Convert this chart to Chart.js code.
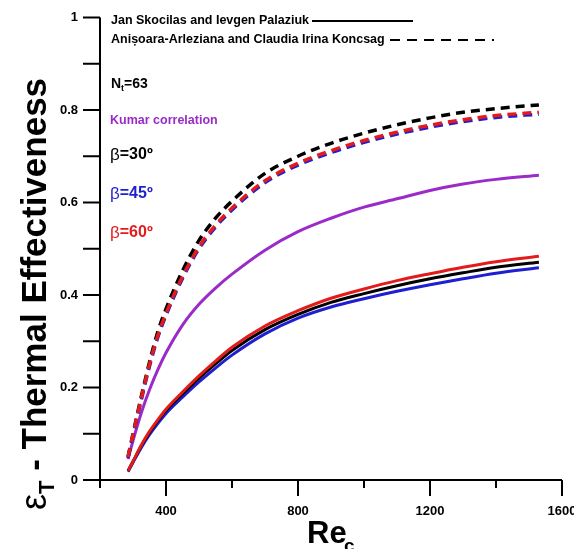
<!DOCTYPE html>
<html>
<head>
<meta charset="utf-8">
<script src="https://cdn.jsdelivr.net/npm/chart.js@4.4.1/dist/chart.umd.min.js"></script>
<style>
html, body { margin: 0; padding: 0; background: #fff; }
#wrap { width: 574px; height: 549px; }
</style>
</head>
<body>
<div id="wrap"><canvas id="effChart" width="574" height="549"></canvas></div>
<script>
// Reynolds numbers shared by every curve
const reValues = [285, 300, 325, 350, 375, 400, 450, 500, 550, 600, 700, 800, 900, 1000, 1100, 1200, 1300, 1400, 1530];

// Anisoara-Arleziana & Koncsag (dashed)
const dashed30 = [0.05, 0.10, 0.18, 0.255, 0.32, 0.37, 0.452, 0.518, 0.566, 0.603, 0.663, 0.70, 0.728, 0.75, 0.768, 0.783, 0.795, 0.803, 0.811];
const dashed45 = [0.048, 0.096, 0.173, 0.246, 0.308, 0.356, 0.436, 0.50, 0.547, 0.584, 0.643, 0.681, 0.708, 0.73, 0.748, 0.763, 0.775, 0.784, 0.791];
const dashed60 = [0.05, 0.098, 0.176, 0.25, 0.312, 0.36, 0.44, 0.504, 0.551, 0.588, 0.647, 0.685, 0.712, 0.734, 0.752, 0.767, 0.779, 0.788, 0.795];

// Kumar correlation
const kumar = [0.045, 0.085, 0.145, 0.195, 0.238, 0.275, 0.335, 0.38, 0.415, 0.445, 0.497, 0.537, 0.566, 0.59, 0.608, 0.626, 0.64, 0.65, 0.659];

// Skocilas & Palaziuk (solid)
const solid30 = [0.02, 0.04, 0.074, 0.103, 0.128, 0.15, 0.186, 0.22, 0.251, 0.28, 0.325, 0.358, 0.384, 0.403, 0.42, 0.435, 0.448, 0.46, 0.471];
const solid45 = [0.018, 0.038, 0.07, 0.098, 0.122, 0.144, 0.179, 0.212, 0.242, 0.27, 0.316, 0.35, 0.374, 0.392, 0.408, 0.422, 0.435, 0.447, 0.459];
const solid60 = [0.02, 0.04, 0.075, 0.105, 0.13, 0.153, 0.19, 0.225, 0.257, 0.287, 0.333, 0.366, 0.393, 0.413, 0.431, 0.446, 0.46, 0.472, 0.484];

// axes
const xMajorTicks = [400, 800, 1200, 1600];
const xMinorTicks = [200, 600, 1000, 1400];
const yTicks = [0, 0.1, 0.2, 0.3, 0.4, 0.5, 0.6, 0.7, 0.8, 0.9, 1];
const yTickLabels = ['0', '0.2', '0.4', '0.6', '0.8', '1'];

const BLACK = '#000000';
const RED = '#e41b1b';
const BLUE = '#1f1fd1';
const PURPLE = '#9a2bc8';
const FONT = '"Liberation Sans", Arial, sans-serif';

const toPoints = (arr) => reValues.map((re, i) => ({ x: re, y: arr[i] }));

const dashedLine = (label, arr, color, order) => ({
    label, data: toPoints(arr), borderColor: color, borderWidth: 3.5,
    borderDash: [9, 6], pointRadius: 0, tension: 0.4, cubicInterpolationMode: 'monotone',
    fill: false, order
});
const solidLine = (label, arr, color, order) => ({
    label, data: toPoints(arr), borderColor: color, borderWidth: 3,
    pointRadius: 0, tension: 0.4, cubicInterpolationMode: 'monotone',
    fill: false, order
});

// hand drawn axes, ticks and annotations in the style of the paper figure
const paperAxes = {
    id: 'paperAxes',
    afterDraw(chart) {
        const ctx = chart.ctx;
        const xs = chart.scales.x, ys = chart.scales.y;
        const left = xs.getPixelForValue(200), right = xs.getPixelForValue(1600);
        const top = ys.getPixelForValue(1), bottom = ys.getPixelForValue(0);

        ctx.save();
        ctx.strokeStyle = BLACK;
        ctx.fillStyle = BLACK;
        ctx.lineWidth = 2;
        ctx.beginPath();
        ctx.moveTo(left, top); ctx.lineTo(left, bottom);
        ctx.moveTo(left, bottom); ctx.lineTo(right, bottom);
        yTicks.forEach(v => {
            const y = ys.getPixelForValue(v);
            ctx.moveTo(left - 17, y); ctx.lineTo(left, y);
        });
        xMajorTicks.forEach(v => {
            const x = xs.getPixelForValue(v);
            ctx.moveTo(x, bottom); ctx.lineTo(x, bottom + 16);
        });
        xMinorTicks.forEach(v => {
            const x = xs.getPixelForValue(v);
            ctx.moveTo(x, bottom); ctx.lineTo(x, bottom + 8);
        });
        ctx.stroke();

        ctx.font = 'bold 13px ' + FONT;
        ctx.textAlign = 'right';
        ctx.textBaseline = 'middle';
        yTickLabels.forEach(t => ctx.fillText(t, left - 22, ys.getPixelForValue(parseFloat(t))));
        ctx.textAlign = 'center';
        ctx.textBaseline = 'top';
        xMajorTicks.forEach(v => ctx.fillText(String(v), xs.getPixelForValue(v), bottom + 25));

        // x title Re_c
        ctx.textAlign = 'left';
        ctx.textBaseline = 'alphabetic';
        ctx.font = 'bold 31px ' + FONT;
        ctx.fillText('Re', 307, 543);
        ctx.font = 'bold 19px ' + FONT;
        ctx.fillText('c', 344, 552);

        // y title ε_T - Thermal Effectiveness
        ctx.save();
        ctx.translate(46, 294);
        ctx.rotate(-Math.PI / 2);
        const parts = [
            ['ε', '36px ' + FONT, 0],
            ['T', 'bold 22px ' + FONT, 8],
            [' - Thermal Effectiveness', 'bold 35px ' + FONT, 0]
        ];
        let total = 0;
        parts.forEach(p => { ctx.font = p[1]; total += ctx.measureText(p[0]).width; });
        let px = -total / 2;
        parts.forEach(p => { ctx.font = p[1]; ctx.fillText(p[0], px, p[2]); px += ctx.measureText(p[0]).width; });
        ctx.restore();

        // key at the top
        ctx.font = 'bold 12.5px ' + FONT;
        ctx.textBaseline = 'middle';
        ctx.fillText('Jan Skocilas and Ievgen Palaziuk', 111, 21);
        ctx.fillText('Anișoara-Arleziana and Claudia Irina Koncsag', 111, 40);
        ctx.lineWidth = 2;
        ctx.beginPath();
        ctx.moveTo(312, 21); ctx.lineTo(413, 21);
        ctx.stroke();
        ctx.setLineDash([10, 7]);
        ctx.beginPath();
        ctx.moveTo(390, 40); ctx.lineTo(494, 40);
        ctx.stroke();
        ctx.setLineDash([]);

        // N_t = 63
        ctx.font = 'bold 14px ' + FONT;
        ctx.fillText('N', 111, 84);
        let nx = 111 + ctx.measureText('N').width;
        ctx.font = 'bold 9px ' + FONT;
        ctx.fillText('t', nx, 89);
        nx += ctx.measureText('t').width;
        ctx.font = 'bold 14px ' + FONT;
        ctx.fillText('=63', nx, 84);

        ctx.fillStyle = PURPLE;
        ctx.font = 'bold 12.5px ' + FONT;
        ctx.fillText('Kumar correlation', 110, 121);

        [['30', BLACK, 155], ['45', BLUE, 194], ['60', RED, 233]].forEach(([a, c, y]) => {
            ctx.fillStyle = c;
            ctx.font = '17px ' + FONT;
            ctx.fillText('β', 110, y);
            const bx = 110 + ctx.measureText('β').width;
            ctx.font = 'bold 16px ' + FONT;
            ctx.fillText('=' + a + 'º', bx, y);
        });
        ctx.restore();
    }
};

new Chart(document.getElementById('effChart'), {
    type: 'line',
    data: {
        datasets: [
            dashedLine('Koncsag β=30º', dashed30, BLACK, 3),
            dashedLine('Koncsag β=45º', dashed45, BLUE, 2),
            dashedLine('Koncsag β=60º', dashed60, RED, 1),
            solidLine('Kumar correlation', kumar, PURPLE, 4),
            solidLine('Skocilas β=45º', solid45, BLUE, 7),
            solidLine('Skocilas β=30º', solid30, BLACK, 6),
            solidLine('Skocilas β=60º', solid60, RED, 5)
        ]
    },
    options: {
        responsive: false,
        animation: false,
        layout: { padding: { left: 100, right: 12, top: 17.5, bottom: 69 } },
        plugins: { legend: { display: false }, tooltip: { enabled: false } },
        scales: {
            x: { type: 'linear', min: 200, max: 1600, display: false },
            y: { type: 'linear', min: 0, max: 1, display: false }
        }
    },
    plugins: [paperAxes]
});
</script>
</body>
</html>
